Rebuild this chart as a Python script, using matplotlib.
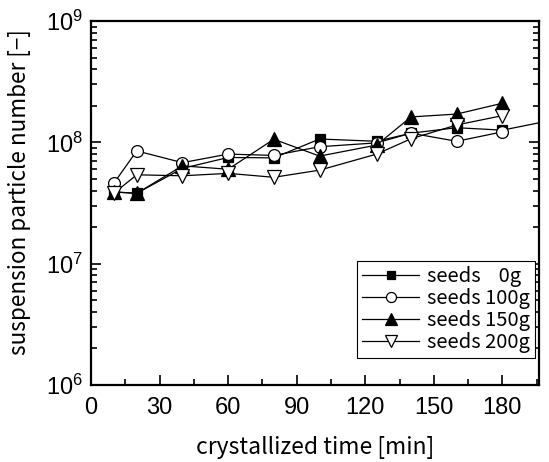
import matplotlib
matplotlib.use("Agg")
import matplotlib.pyplot as plt
from matplotlib.ticker import MultipleLocator, LogLocator, NullFormatter

plt.rcParams["font.family"] = ["Liberation Sans", "DejaVu Sans"]
plt.rcParams["mathtext.fontset"] = "custom"
plt.rcParams["mathtext.rm"] = "Liberation Sans"

## Daten
time_0g = [10, 20, 40, 60, 80, 100, 125, 140, 160, 180, 200]
seeds_0g = [3.9e7, 3.8e7, 6.1e7, 7.5e7, 7.45e7, 1.065e8, 1.02e8, 1.19e8, 1.32e8, 1.26e8, 1.5e8]

time_other = [10, 20, 40, 60, 80, 100, 125, 140, 160, 180]
seeds_100g = [4.6e7, 8.5e7, 6.8e7, 8.0e7, 7.8e7, 9.2e7, 9.9e7, 1.19e8, 1.02e8, 1.22e8]
seeds_150g = [3.9e7, 3.8e7, 6.4e7, 6.0e7, 1.06e8, 7.7e7, 9.5e7, 1.62e8, 1.71e8, 2.10e8]
seeds_200g = [3.8e7, 5.4e7, 5.3e7, 5.55e7, 5.15e7, 5.9e7, 8.0e7, 1.07e8, 1.39e8, 1.66e8]

labels = ["seeds    0g", "seeds 100g", "seeds 150g", "seeds 200g"]

jp = ["Noto Sans CJK JP", "DejaVu Sans"]

## Plot
fig = plt.figure(figsize=(5.49, 4.62), dpi=100)
ax = fig.add_axes([91 / 549, 1 - 385 / 462, 448 / 549, 364 / 462])

style = dict(color="black", lw=0.9, markeredgewidth=0.9)
ax.plot(time_0g, seeds_0g, marker="s", ms=7.5, mfc="black", label=labels[0], **style)
ax.plot(time_other, seeds_100g, marker="o", ms=8.5, mfc="white", label=labels[1], **style)
ax.plot(time_other, seeds_150g, marker="^", ms=10, mfc="black", label=labels[2], **style)
ax.plot(time_other, seeds_200g, marker="v", ms=10, mfc="white", label=labels[3], **style)

ax.set_yscale("log")
ax.set_xlim(0, 196)
ax.set_ylim(1e6, 1e9)

ax.xaxis.set_major_locator(MultipleLocator(30))
ax.xaxis.set_minor_locator(MultipleLocator(15))
ax.yaxis.set_major_locator(LogLocator(base=10, numticks=10))
ax.yaxis.set_minor_locator(LogLocator(base=10, subs=range(2, 10), numticks=10))
ax.yaxis.set_minor_formatter(NullFormatter())

ax.tick_params(which="both", direction="in", width=1.2, labelsize=17)
ax.tick_params(axis="y", which="both", right=True)
ax.tick_params(which="major", length=7, pad=6)
ax.tick_params(axis="x", which="major", pad=9)
ax.tick_params(which="minor", length=4)
for s in ax.spines.values():
    s.set_linewidth(1.6)

ax.set_xlabel("crystallized time [min]", fontsize=16.5, family=jp, labelpad=12)
ax.set_ylabel("suspension particle number [\u2212]", fontsize=16.2, family=jp)
ax.yaxis.set_label_coords(-0.134, 0.53)

leg = ax.legend(loc="lower right", bbox_to_anchor=(0.991, 0.074), borderaxespad=0,
                prop={"family": jp, "size": 14.5}, frameon=True, fancybox=False,
                edgecolor="black", framealpha=1, handlelength=2.8, markerscale=0.85,
                labelspacing=0.05, handletextpad=0.4, borderpad=0.25)
leg.get_frame().set_linewidth(0.8)

fig.savefig("out.png", dpi=100)
